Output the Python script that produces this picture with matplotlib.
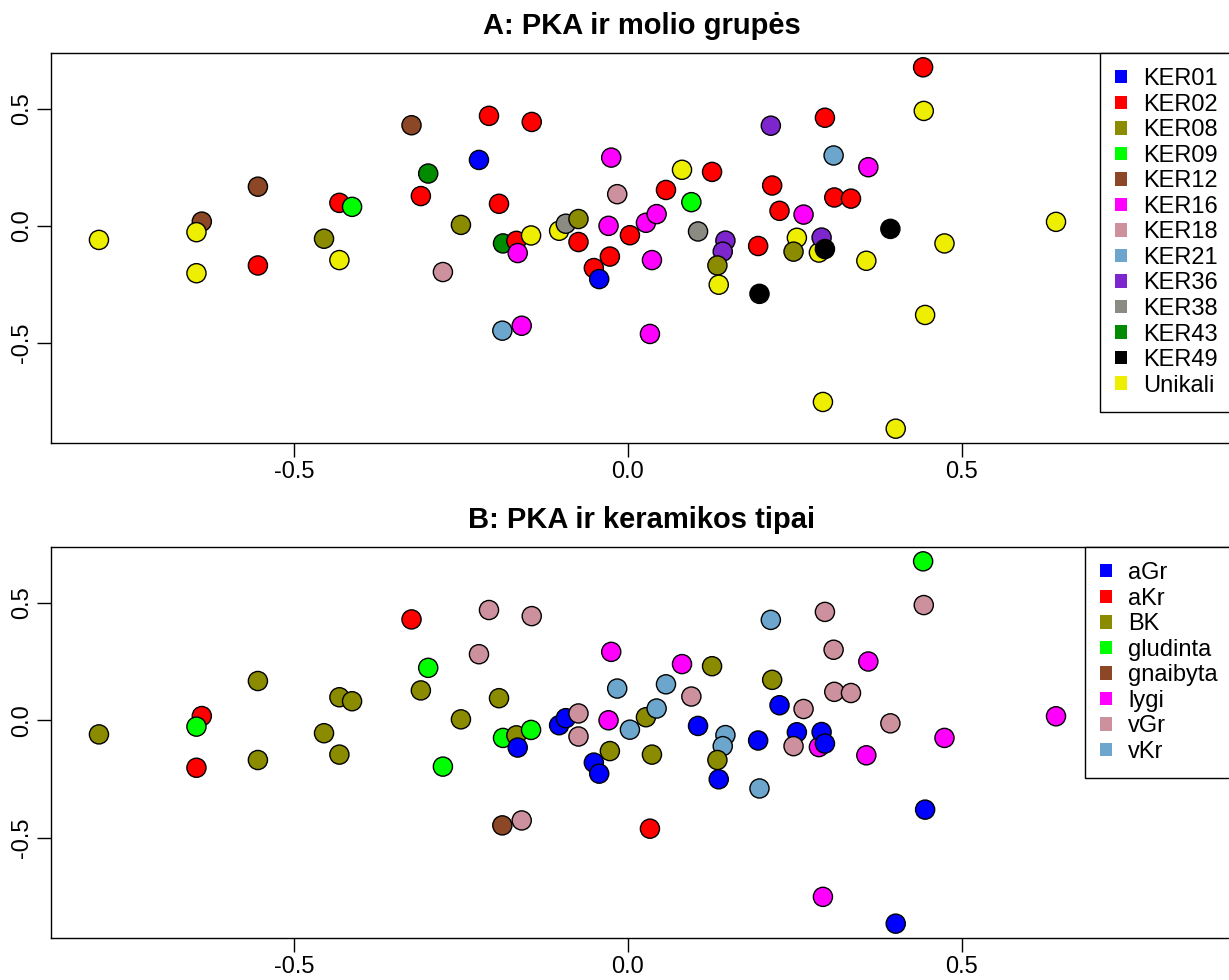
import matplotlib.pyplot as plt
from matplotlib.patches import Patch

plt.rcParams['font.family'] = ['Liberation Sans', 'DejaVu Sans']

# PCA coordinates (PC1, PC2) shared by both panels
pc1 = [-0.792, -0.554, -0.638, -0.646, -0.646, -0.554, -0.324, -0.299, -0.310, -0.432,
       -0.413, -0.455, -0.432, -0.277, -0.208, -0.144, -0.223, -0.193, -0.250, -0.187,
       -0.167, -0.165, -0.145, -0.103, -0.093, -0.074, -0.074, -0.025, -0.016, -0.029,
       0.003, -0.027, -0.051, -0.043, 0.027, 0.043, 0.036, 0.057, 0.081, 0.126,
       0.095, 0.105, 0.146, 0.142, 0.134, 0.136, 0.197, 0.195, 0.214, 0.216,
       0.227, 0.263, 0.253, 0.248, 0.286, 0.290, 0.295, 0.295, 0.308, 0.309,
       0.334, 0.360, 0.393, 0.474, 0.641, 0.357, 0.445, 0.292, 0.401, 0.442,
       0.443, -0.159, -0.188, 0.033]
pc2 = [-0.060, 0.167, 0.018, -0.027, -0.202, -0.169, 0.429, 0.223, 0.127, 0.098,
       0.081, -0.055, -0.146, -0.197, 0.469, 0.443, 0.281, 0.094, 0.004, -0.075,
       -0.064, -0.116, -0.041, -0.021, 0.009, 0.029, -0.069, 0.291, 0.135, 0.000,
       -0.040, -0.131, -0.180, -0.227, 0.013, 0.050, -0.146, 0.153, 0.239, 0.230,
       0.101, -0.024, -0.063, -0.110, -0.169, -0.251, -0.290, -0.086, 0.427, 0.172,
       0.064, 0.048, -0.051, -0.110, -0.114, -0.050, -0.099, 0.461, 0.300, 0.121,
       0.116, 0.250, -0.013, -0.075, 0.017, -0.149, -0.380, -0.751, -0.865, 0.676,
       0.490, -0.426, -0.447, -0.461]

# clay groups (panel A)
clay = ["Unikali", "KER12", "KER12", "Unikali", "Unikali", "KER02", "KER12", "KER43", "KER02", "KER02",
        "KER09", "KER08", "Unikali", "KER18", "KER02", "KER02", "KER01", "KER02", "KER08", "KER43",
        "KER02", "KER16", "Unikali", "Unikali", "KER38", "KER08", "KER02", "KER16", "KER18", "KER16",
        "KER02", "KER02", "KER02", "KER01", "KER16", "KER16", "KER16", "KER02", "Unikali", "KER02",
        "KER09", "KER38", "KER36", "KER36", "KER08", "Unikali", "KER49", "KER02", "KER36", "KER02",
        "KER02", "KER16", "Unikali", "KER08", "Unikali", "KER36", "KER49", "KER02", "KER21", "KER02",
        "KER02", "KER16", "KER49", "Unikali", "Unikali", "Unikali", "Unikali", "Unikali", "Unikali", "KER02",
        "Unikali", "KER16", "KER21", "KER16"]

# ceramic types (panel B)
ctype = ["BK", "BK", "aKr", "gludinta", "aKr", "BK", "aKr", "gludinta", "BK", "BK",
         "BK", "BK", "BK", "gludinta", "vGr", "vGr", "vGr", "BK", "BK", "gludinta",
         "BK", "aGr", "gludinta", "aGr", "aGr", "vGr", "vGr", "lygi", "vKr", "lygi",
         "vKr", "BK", "aGr", "aGr", "BK", "vKr", "BK", "vKr", "lygi", "BK",
         "vGr", "aGr", "vKr", "vKr", "BK", "aGr", "vKr", "aGr", "vKr", "BK",
         "aGr", "vGr", "aGr", "vGr", "lygi", "aGr", "aGr", "vGr", "vGr", "vGr",
         "vGr", "lygi", "vGr", "lygi", "lygi", "lygi", "aGr", "lygi", "aGr", "gludinta",
         "vGr", "vGr", "gnaibyta", "aKr"]

clay_levels = ["KER01", "KER02", "KER08", "KER09", "KER12", "KER16", "KER18",
               "KER21", "KER36", "KER38", "KER43", "KER49", "Unikali"]
type_levels = ["aGr", "aKr", "BK", "gludinta", "gnaibyta", "lygi", "vGr", "vKr"]

palette = ["#0000FF", "#FF0000", "#8B8B00", "#00FF00", "#8B4726", "#FF00FF", "#CD919E",
           "#6CA6CD", "#7D26CD", "#8B8B83", "#008B00", "#000000", "#EEEE00"]

W, H = 1229, 980
fig = plt.figure(figsize=(W / 100, H / 100), dpi=100)

left = 51 / W
width = (1233 - 51) / W
ax_a = fig.add_axes([left, 1 - 443 / H, width, 390 / H])
ax_b = fig.add_axes([left, 1 - 938 / H, width, 391 / H])

panels = [
    (ax_a, clay, clay_levels, "A: PKA ir molio grupės"),
    (ax_b, ctype, type_levels, "B: PKA ir keramikos tipai"),
]

for ax, groups, levels, title in panels:
    cmap = {g: palette[i] for i, g in enumerate(levels)}
    ax.scatter(pc1, pc2, s=190, c=[cmap[g] for g in groups],
               edgecolors="black", linewidths=1.0, zorder=3)
    ax.set_xlim(-0.8638, 0.906)
    ax.set_ylim(-0.926, 0.737)
    ax.set_xticks([-0.5, 0.0, 0.5])
    ax.set_xticklabels(["-0.5", "0.0", "0.5"])
    ax.set_yticks([-0.5, 0.0, 0.5])
    ax.set_yticklabels(["-0.5", "0.0", "0.5"], rotation=90, va="center")
    ax.tick_params(direction="out", length=10, width=1.0, labelsize=17, pad=3)
    for sp in ax.spines.values():
        sp.set_linewidth(1.0)
    ax.set_title(title, fontsize=21, fontweight="bold", pad=14)

    handles = [Patch(facecolor=cmap[g], edgecolor="none", label=g) for g in levels]
    leg = ax.legend(handles=handles, loc="upper right", fontsize=17,
                    frameon=True, fancybox=False, framealpha=1, edgecolor="black",
                    borderaxespad=0, borderpad=0.64, labelspacing=0.15,
                    handlelength=0.5, handleheight=0.5, handletextpad=0.68)
    leg.get_frame().set_linewidth(1.0)
    leg.set_zorder(5)

fig.savefig("out.png", dpi=100)
